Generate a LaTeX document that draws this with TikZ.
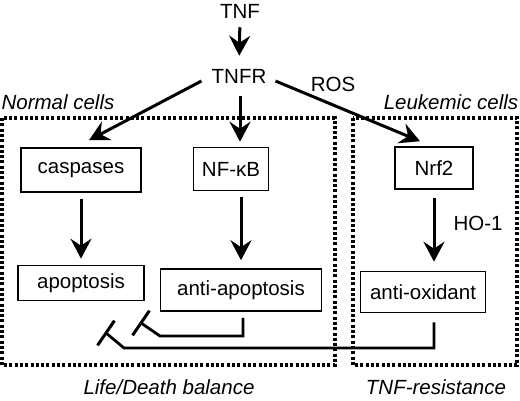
\documentclass[tikz,border=0pt]{standalone}
\usepackage{fontspec}
\setmainfont{Liberation Sans}
\usetikzlibrary{arrows.meta,calc}
\begin{document}
\begin{tikzpicture}[x=1pt,y=-1pt,
  every node/.style={font=\fontsize{20.5}{24}\selectfont},
  box/.style={draw,line width=1.6pt,inner sep=0pt,align=center},
  lbl/.style={inner sep=0pt},
  itl/.style={inner sep=0pt,font=\fontsize{20.5}{24}\selectfont\itshape},
  arr/.style={line width=3pt,-{Stealth[length=20pt,width=21pt,inset=7pt]}},
  inh/.style={line width=2.8pt},
  cellbox/.style={line width=3.2pt,dash pattern=on 3pt off 2.3pt}]
\useasboundingbox (0,0) rectangle (520,400);
% dotted regions
\draw[cellbox] (2,118) rectangle (335,365);
\draw[cellbox] (353,118) rectangle (517,365);
% texts
\node[lbl] (tnf) at (240,11) {TNF};
\node[lbl] (tnfr) at (239,76) {TNFR};
\node[lbl] (ros) at (333,84) {ROS};
\node[itl] (normal) at (58,102) {Normal cells};
\node[itl] (leuk) at (451,102) {Leukemic cells};
\node[itl] (life) at (169,387) {Life/Death balance};
\node[itl] (resist) at (436,387) {TNF-resistance};
\node[lbl] (ho) at (478,223) {HO-1};
% boxes
\node[box,minimum width=120pt,minimum height=44pt] (casp) at (81,170) {caspases};
\node[box,minimum width=75pt,minimum height=43pt] (nfkb) at (231,169) {NF-κB};
\node[box,minimum width=78pt,minimum height=42pt] (nrf) at (434,168) {Nrf2};
\node[box,minimum width=126pt,minimum height=35pt] (apop) at (81,283) {apoptosis};
\node[box,minimum width=161pt,minimum height=42pt] (anti) at (241,290) {anti-apoptosis};
\node[box,minimum width=125pt,minimum height=41pt] (antiox) at (423,292) {anti-oxidant};
% arrows
\draw[arr,shorten <=9pt,shorten >=13pt] (tnf.south) -- (tnfr.north);
\draw[arr] ([shift={(-10,5)}]tnfr.west) -- ([shift={(8,-7)}]casp.north);
\draw[arr,shorten <=13pt,shorten >=5pt] ([xshift=1pt]tnfr.south) -- ([xshift=1pt]tnfr.south |- nfkb.north);
\draw[arr] ([shift={(9,5)}]tnfr.east) -- ([shift={(-14,-5)}]nrf.north);
\draw[arr,shorten <=6pt,shorten >=6pt] (casp.south) -- (apop.north);
\draw[arr,shorten <=6pt,shorten >=8pt] (nfkb.south -| anti.north) -- (anti.north);
\draw[arr,shorten <=8pt,shorten >=9pt] (nrf.south) -- (nrf.south |- antiox.north);
% inhibitions
\coordinate (b1) at (141,323);
\coordinate (b2) at (106,333);
\draw[inh,shorten <=6pt] ([xshift=2pt]anti.south) -- ([xshift=2pt]anti.south |- 0,336) -- (160,336) -- (b1);
\draw[line width=3pt] ($(b1)+(8.5,-12.4)$) -- ($(b1)+(-8.5,12.4)$);
\draw[inh,shorten <=9pt] ([xshift=11pt]antiox.south) -- ([xshift=11pt]antiox.south |- 0,348) -- (124,348) -- (b2);
\draw[line width=3pt] ($(b2)+(8.5,-12.4)$) -- ($(b2)+(-8.5,12.4)$);
\end{tikzpicture}
\end{document}
